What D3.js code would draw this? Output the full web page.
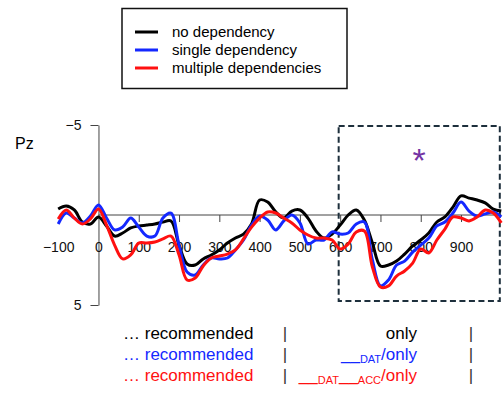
<!DOCTYPE html>
<html lang="en">
<head>
  <meta charset="UTF-8" />
  <title>Pz ERP</title>
  <style>
    body {
      margin: 0;
      background-color: #fff;
      font-family: "Liberation Sans", Arial, sans-serif;
    }
    svg {
      display: block;
    }
    .axis path, .axis line {
      stroke: #444;
    }
    .axis text {
      fill: #111;
      font-size: 14px;
      font-family: "Liberation Sans", Arial, sans-serif;
    }
  </style>
</head>
<body>
  <svg width="504" height="396"></svg>

  <script src="https://cdnjs.cloudflare.com/ajax/libs/d3/7.8.5/d3.min.js"></script>
  <script>
    // time points (ms)
    const times = [-100, -80, -60, -40, -20, 0, 20, 40, 60, 80, 100, 120, 140, 160, 180,
      200, 220, 240, 260, 280, 300, 320, 340, 360, 380, 400, 420, 440, 460, 480,
      500, 520, 540, 560, 580, 600, 620, 640, 660, 680, 700, 720, 740, 760, 780,
      800, 820, 840, 860, 880, 900, 920, 940, 960, 980, 1000];

    // amplitudes (µV, negative up)
    const noDep = [-0.33, -0.5, -0.28, 0.39, 0.5, 0.11, 0.61, 1.17, 1.0, 0.72, 0.61, 0.56, 0.5, 0.39, 0.33,
      1.67, 2.72, 2.78, 2.44, 2.22, 1.94, 1.56, 1.28, 1.06, 0.5, -0.83, -0.72, -0.17, 0.17, -0.22,
      -0.28, 0.17, 0.89, 1.28, 1.06, 0.56, 0, -0.28, 0.28, 1.56, 2.83, 2.78, 2.56, 2.17, 1.72,
      1.39, 1.0, 0.39, 0.11, -0.44, -1.06, -0.94, -0.83, -0.67, -0.33, -0.22];

    const singleDep = [0.5, -0.11, 0.17, 0.44, 0.06, -0.56, 0.17, 0.83, 0.67, 0.17, 0.67, 1.17, 1.17, 0.17, -0.1,
      1.67, 3.17, 3.33, 2.78, 2.39, 2.44, 2.39, 1.94, 1.39, 0.56, 0.06, 0.28, 0.83, 0.33, 0,
      0.44, 1.61, 1.39, 1.39, 0.94, 1.06, 1.0, 0.5, 0.39, 2.5, 3.94, 3.61, 2.78, 2.56, 2.06,
      1.67, 1.28, 0.61, 0.39, -0.11, -0.72, -0.22, 0.06, -0.06, -0.17, 0.11];

    const multiDep = [0.22, -0.28, 0.17, 0.5, 0.22, -0.33, 0.56, 1.67, 2.44, 2.22, 1.56, 1.56, 1.5, 1.33, 1.17,
      2.22, 3.61, 3.5, 2.83, 2.39, 2.28, 2.17, 1.94, 1.33, 0.67, 0.17, -0.17, -0.11, 0.17, 0.44,
      0.83, 1.11, 1.28, 1.28, 1.39, 1.89, 1.61, 0.94, 0.89, 2.89, 4.0, 3.94, 3.39, 3.11, 2.67,
      1.89, 2.11, 1.39, 0.78, 0.11, 0.17, 0.33, 0.11, -0.28, -0.11, 0.44];

    const seriesNames = ["no dependency", "single dependency", "multiple dependencies"];
    const seriesColors = ["#000000", "#1428ff", "#ff1010"];
    const seriesValues = [noDep, singleDep, multiDep];

    const xTicks = [-100, 0, 100, 200, 300, 400, 500, 600, 700, 800, 900];
    const yTicks = [-5, 5];

    // significant window
    const windowRange = [600, 1000];

    const svg = d3.select("svg");
    const font = "'Liberation Sans', Arial, sans-serif";

    const x = d3.scaleLinear().domain([-100, 1000]).range([58.2, 501.3]);
    const y = d3.scaleLinear().domain([-5, 5]).range([125, 305]);

    // y axis
    svg.append("g")
      .attr("class", "axis")
      .attr("transform", `translate(${x(0)},0)`)
      .call(d3.axisLeft(y)
        .tickValues(yTicks)
        .tickSize(8)
        .tickSizeOuter(0)
        .tickPadding(9)
        .tickFormat(d => d < 0 ? "\u2212" + Math.abs(d) : d))
      .call(g => g.selectAll("text").attr("font-size", 15));

    // x axis on zero line
    const xAxis = svg.append("g")
      .attr("class", "axis")
      .attr("transform", `translate(0,${y(0)})`)
      .call(d3.axisBottom(x)
        .tickValues(xTicks)
        .tickSize(7)
        .tickPadding(20)
        .tickFormat(d => d < 0 ? "\u2212" + Math.abs(d) : d));
    xAxis.select(".domain").remove();
    xAxis.selectAll(".tick").filter(d => d <= 0).select("line").remove();
    xAxis.append("line")
      .attr("x1", x(0)).attr("x2", x(1000))
      .attr("stroke", "#444");

    // Pz label
    svg.append("text")
      .attr("x", 15).attr("y", 149)
      .attr("font-family", font)
      .attr("font-size", 16)
      .text("Pz");

    // dashed window box
    svg.append("rect")
      .attr("x", x(windowRange[0]) - 1.5)
      .attr("y", 126)
      .attr("width", x(windowRange[1]) - x(windowRange[0]))
      .attr("height", 175)
      .attr("fill", "none")
      .attr("stroke", "#1d2f3c")
      .attr("stroke-width", 2)
      .attr("stroke-dasharray", "6,3.5");

    svg.append("text")
      .attr("x", 419).attr("y", 172)
      .attr("text-anchor", "middle")
      .attr("font-family", font)
      .attr("font-size", 34)
      .attr("fill", "#7434a4")
      .text("*");

    // curves
    const line = d3.line()
      .x((d, i) => x(times[i]))
      .y(d => y(d))
      .curve(d3.curveCatmullRom);

    svg.append("g")
      .selectAll("path")
      .data(seriesValues)
      .join("path")
      .attr("d", d => line(d))
      .attr("fill", "none")
      .attr("stroke", (d, i) => seriesColors[i])
      .attr("stroke-width", 3)
      .attr("stroke-linejoin", "round");

    // legend
    const legend = svg.append("g");
    legend.append("rect")
      .attr("x", 122).attr("y", 8.5)
      .attr("width", 225).attr("height", 80)
      .attr("fill", "#fff")
      .attr("stroke", "#111")
      .attr("stroke-width", 1.5);
    const rowsY = [32, 50, 68];
    seriesNames.forEach((name, i) => {
      legend.append("line")
        .attr("x1", 135).attr("x2", 158)
        .attr("y1", rowsY[i]).attr("y2", rowsY[i])
        .attr("stroke", seriesColors[i])
        .attr("stroke-width", 3);
      legend.append("text")
        .attr("x", 172).attr("y", rowsY[i] + 5)
        .attr("font-family", font)
        .attr("font-size", 15)
        .text(name);
    });

    // condition sentences below the plot
    const baselines = [339, 360, 381];
    const critical = [
      [{t: "only"}],
      [{t: "__", s: 17}, {t: "DAT", s: 11, dy: 3}, {t: "/only", s: 17, dy: -3}],
      [{t: "__", s: 17}, {t: "DAT", s: 11, dy: 3}, {t: "__", s: 17, dy: -3}, {t: "ACC", s: 11, dy: 3}, {t: "/only", s: 17, dy: -3}]
    ];
    baselines.forEach((b, i) => {
      svg.append("text")
        .attr("x", 123).attr("y", b)
        .attr("font-family", font).attr("font-size", 17)
        .attr("fill", seriesColors[i])
        .text("\u2026 recommended");
      [285, 471].forEach(px => {
        svg.append("text")
          .attr("x", px).attr("y", b)
          .attr("text-anchor", "middle")
          .attr("font-family", font).attr("font-size", 17)
          .attr("fill", "#333")
          .text("|");
      });
      const t = svg.append("text")
        .attr("x", 417).attr("y", b)
        .attr("text-anchor", "end")
        .attr("font-family", font).attr("font-size", 17)
        .attr("fill", seriesColors[i]);
      critical[i].forEach(p => {
        t.append("tspan")
          .attr("font-size", p.s || 17)
          .attr("dy", p.dy || 0)
          .text(p.t);
      });
    });
  </script>
</body>
</html>
